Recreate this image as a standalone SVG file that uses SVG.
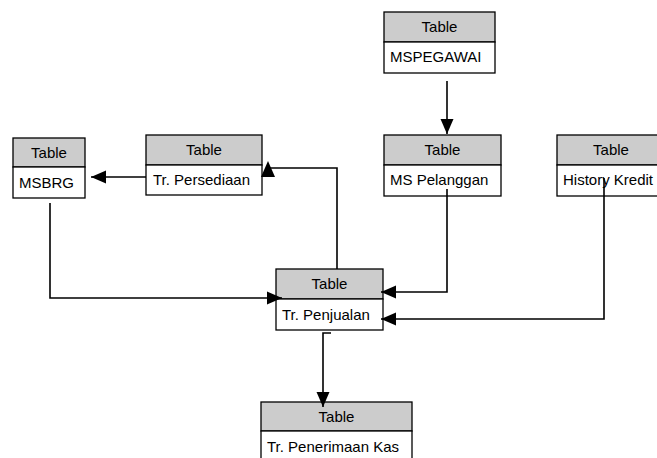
<svg xmlns="http://www.w3.org/2000/svg" width="657" height="458" viewBox="0 0 657 458">
<style>
.hdr{fill:#cccccc;stroke:#000;stroke-width:1.3}
.row{fill:#fff;stroke:#000;stroke-width:1.3}
text{font-family:"Liberation Sans",Arial,sans-serif;font-size:15px;fill:#000}
.c{text-anchor:middle}
.ln{fill:none;stroke:#000;stroke-width:1.6}
</style>
<defs>
<marker id="ah" markerUnits="userSpaceOnUse" markerWidth="16" markerHeight="14" refX="15" refY="7" orient="auto">
<path d="M0,0.5 L15,7 L0,13.5 z" fill="#000"/>
</marker>
</defs>
<g id="mspegawai">
<rect class="hdr" x="384" y="12" width="111" height="30"/>
<rect class="row" x="384" y="42" width="111" height="31"/>
<text class="c" x="439.5" y="32">Table</text>
<text x="390" y="62">MSPEGAWAI</text>
</g>
<g id="mspelanggan">
<rect class="hdr" x="384" y="135" width="117" height="30"/>
<rect class="row" x="384" y="165" width="117" height="31"/>
<text class="c" x="442.5" y="155">Table</text>
<text x="390" y="185">MS Pelanggan</text>
</g>
<g id="historykredit">
<rect class="hdr" x="557" y="135" width="110" height="30"/>
<rect class="row" x="557" y="165" width="110" height="31"/>
<text class="c" x="611" y="155">Table</text>
<text x="563" y="185">History Kredit</text>
</g>
<g id="msbrg">
<rect class="hdr" x="13" y="138" width="72" height="29"/>
<rect class="row" x="13" y="167" width="72" height="31"/>
<text class="c" x="49" y="158">Table</text>
<text x="19" y="188">MSBRG</text>
</g>
<g id="trpersediaan">
<rect class="hdr" x="146" y="135" width="116" height="30"/>
<rect class="row" x="146" y="165" width="116" height="30"/>
<text class="c" x="204" y="155">Table</text>
<text x="153" y="185">Tr. Persediaan</text>
</g>
<g id="trpenjualan">
<rect class="hdr" x="276" y="269" width="107" height="30"/>
<rect class="row" x="276" y="299" width="107" height="31"/>
<text class="c" x="329.5" y="289">Table</text>
<text x="282" y="320">Tr. Penjualan</text>
</g>
<g id="trpenerimaankas">
<rect class="hdr" x="261" y="402" width="151" height="29"/>
<rect class="row" x="261" y="431" width="151" height="31"/>
<text class="c" x="336.5" y="422">Table</text>
<text x="267" y="452">Tr. Penerimaan Kas</text>
</g>
<g id="connectors">
<path class="ln" d="M447,81 V134" marker-end="url(#ah)"/>
<path class="ln" d="M146,177 H91" marker-end="url(#ah)"/>
<path class="ln" d="M337,269 V168 H268"/>
<polygon points="268,161 275,177 261,177" fill="#000"/>
<path class="ln" d="M447,189 V292 H381" marker-end="url(#ah)"/>
<path class="ln" d="M604,178 V319 H381" marker-end="url(#ah)"/>
<path class="ln" d="M50,203 V298 H282" marker-end="url(#ah)"/>
<path class="ln" d="M331,333 H323 V407" marker-end="url(#ah)"/>
</g>
</svg>
